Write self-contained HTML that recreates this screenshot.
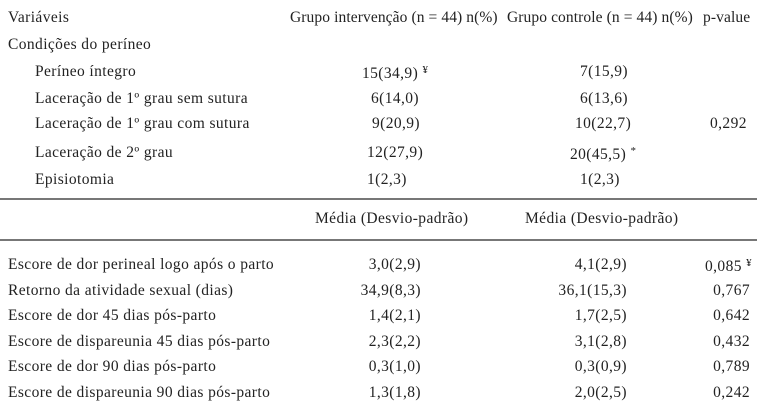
<!DOCTYPE html>
<html><head><meta charset="utf-8"><style>
html,body{margin:0;padding:0;background:#fff;}
body{width:766px;height:408px;position:relative;overflow:hidden;font-family:"Liberation Serif","DejaVu Serif",serif;font-size:15.5px;letter-spacing:0.4px;color:#222;}
.t{position:absolute;white-space:nowrap;line-height:16px;}
.r{position:absolute;white-space:nowrap;line-height:16px;text-align:right;}
.ln{position:absolute;left:0;width:757px;height:2px;background:#777;}
sup{font-size:11px;position:relative;top:-4px;vertical-align:top;}
</style></head><body>
<div class="t" style="left:8px;top:10px">Variáveis</div>
<div class="t" style="left:290px;top:10px;letter-spacing:0.1px">Grupo intervenção (n = 44) n(%)</div>
<div class="t" style="left:507px;top:10px;letter-spacing:0.1px">Grupo controle (n = 44) n(%)</div>
<div class="t" style="left:703px;top:10px;letter-spacing:0.1px">p-value</div>
<div class="t" style="left:8px;top:37px">Condições do períneo</div>

<div class="t" style="left:35px;top:64px">Períneo íntegro</div>
<div class="t" style="left:362px;top:66px">15(34,9) <sup>¥</sup></div>
<div class="t" style="left:580px;top:64px">7(15,9)</div>

<div class="t" style="left:35px;top:91px">Laceração de 1º grau sem sutura</div>
<div class="t" style="left:371px;top:91px">6(14,0)</div>
<div class="t" style="left:580px;top:91px">6(13,6)</div>

<div class="t" style="left:35px;top:116px">Laceração de 1º grau com sutura</div>
<div class="t" style="left:372px;top:116px">9(20,9)</div>
<div class="t" style="left:575px;top:116px">10(22,7)</div>
<div class="t" style="left:710px;top:116px">0,292</div>

<div class="t" style="left:35px;top:145px">Laceração de 2º grau</div>
<div class="t" style="left:367px;top:145px">12(27,9)</div>
<div class="t" style="left:570px;top:147px">20(45,5) <sup>*</sup></div>

<div class="t" style="left:35px;top:172px">Episiotomia</div>
<div class="t" style="left:367px;top:172px">1(2,3)</div>
<div class="t" style="left:580px;top:172px">1(2,3)</div>

<div class="ln" style="top:198px"></div>
<div class="t" style="left:315px;top:211px">Média (Desvio-padrão)</div>
<div class="t" style="left:525px;top:211px">Média (Desvio-padrão)</div>
<div class="ln" style="top:239px"></div>

<div class="t" style="left:8px;top:257px">Escore de dor perineal logo após o parto</div>
<div class="r" style="right:345px;top:257px">3,0(2,9)</div>
<div class="r" style="right:139px;top:257px">4,1(2,9)</div>
<div class="t" style="left:705px;top:259px">0,085 <sup>¥</sup></div>

<div class="t" style="left:8px;top:283px">Retorno da atividade sexual (dias)</div>
<div class="r" style="right:345px;top:283px">34,9(8,3)</div>
<div class="r" style="right:139px;top:283px">36,1(15,3)</div>
<div class="r" style="right:16px;top:283px">0,767</div>

<div class="t" style="left:8px;top:308px">Escore de dor 45 dias pós-parto</div>
<div class="r" style="right:345px;top:308px">1,4(2,1)</div>
<div class="r" style="right:139px;top:308px">1,7(2,5)</div>
<div class="r" style="right:16px;top:308px">0,642</div>

<div class="t" style="left:8px;top:334px">Escore de dispareunia 45 dias pós-parto</div>
<div class="r" style="right:345px;top:334px">2,3(2,2)</div>
<div class="r" style="right:139px;top:334px">3,1(2,8)</div>
<div class="r" style="right:16px;top:334px">0,432</div>

<div class="t" style="left:8px;top:359px">Escore de dor 90 dias pós-parto</div>
<div class="r" style="right:345px;top:359px">0,3(1,0)</div>
<div class="r" style="right:139px;top:359px">0,3(0,9)</div>
<div class="r" style="right:16px;top:359px">0,789</div>

<div class="t" style="left:8px;top:385px">Escore de dispareunia 90 dias pós-parto</div>
<div class="r" style="right:345px;top:385px">1,3(1,8)</div>
<div class="r" style="right:139px;top:385px">2,0(2,5)</div>
<div class="r" style="right:16px;top:385px">0,242</div>
</body></html>
